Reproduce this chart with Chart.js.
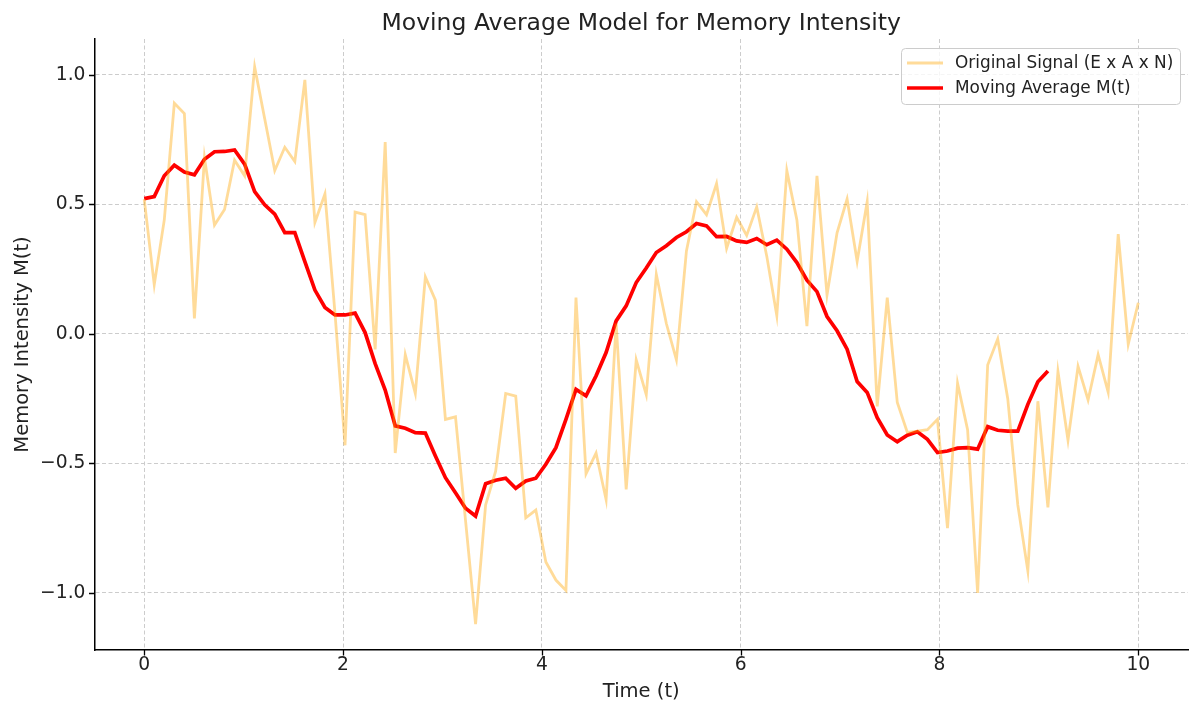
<!DOCTYPE html>
<html>
<head>
<meta charset="utf-8">
<title>Moving Average Model for Memory Intensity</title>
<script src="https://cdn.jsdelivr.net/npm/chart.js@4.4.1/dist/chart.umd.min.js"></script>
<style>
  html, body { margin: 0; padding: 0; background: #fff; }
  #wrap { width: 1200px; height: 715px; }
</style>
</head>
<body>
<div id="wrap"><canvas id="chart" width="1200" height="715"></canvas></div>
<script>
// samples are evenly spaced over t = 0..10 (100 samples)
const tEnd = 10;
const nSamples = 100;
const time = Array.from({ length: nSamples }, (_, i) => (i * tEnd) / (nSamples - 1));

// original signal E x A x N
const signal = [
  0.52, 0.19, 0.44, 0.89, 0.85, 0.06, 0.68, 0.42, 0.48, 0.67,
  0.61, 1.03, 0.83, 0.63, 0.72, 0.665, 0.98, 0.43, 0.54, 0.08,
  -0.43, 0.47, 0.46, -0.06, 0.74, -0.46, -0.08, -0.23, 0.22, 0.13,
  -0.33, -0.32, -0.72, -1.12, -0.66, -0.53, -0.23, -0.24, -0.71, -0.68,
  -0.88, -0.95, -0.99, 0.14, -0.54, -0.46, -0.64, 0.04, -0.60, -0.10,
  -0.235, 0.23, 0.04, -0.10, 0.32, 0.51, 0.46, 0.58, 0.33, 0.45,
  0.38, 0.49, 0.30, 0.07, 0.63, 0.44, 0.03, 0.61, 0.15, 0.39,
  0.52, 0.28, 0.51, -0.28, 0.14, -0.265, -0.38, -0.375, -0.37, -0.33,
  -0.75, -0.19, -0.37, -1.00, -0.12, -0.02, -0.25, -0.66, -0.915, -0.26,
  -0.67, -0.145, -0.41, -0.125, -0.255, -0.08, -0.225, 0.385, -0.04, 0.12
];

// moving average M(t), 91 points starting at t = 0
const movingAvg = [
  0.522, 0.53, 0.61, 0.651, 0.625, 0.614, 0.674, 0.703, 0.704, 0.71,
  0.655, 0.549, 0.498, 0.462, 0.391, 0.391, 0.279, 0.169, 0.102, 0.073,
  0.073, 0.08, 0.005, -0.115, -0.217, -0.355, -0.364, -0.381, -0.383, -0.471,
  -0.555, -0.613, -0.673, -0.703, -0.578, -0.565, -0.557, -0.596, -0.568, -0.557,
  -0.503, -0.439, -0.33, -0.214, -0.239, -0.162, -0.072, 0.05, 0.108, 0.198,
  0.254, 0.314, 0.34, 0.372, 0.394, 0.426, 0.417, 0.375, 0.376, 0.359,
  0.353, 0.368, 0.344, 0.362, 0.327, 0.275, 0.207, 0.163, 0.067, 0.012,
  -0.059, -0.184, -0.226, -0.323, -0.39, -0.416, -0.391, -0.378, -0.407, -0.458,
  -0.452, -0.441, -0.439, -0.445, -0.358, -0.372, -0.375, -0.375, -0.272, -0.185,
  -0.143
];

const xTicks = [0, 2, 4, 6, 8, 10];
const yTicks = [-1.0, -0.5, 0.0, 0.5, 1.0];
const yTickLabels = ["\u22121.0", "\u22120.5", "0.0", "0.5", "1.0"];

const titleText = "Moving Average Model for Memory Intensity";
const signalLabel = "Original Signal (E x A x N)";
const avgLabel = "Moving Average M(t)";

const FONT = "'DejaVu Sans', sans-serif";
const signalColor = "rgba(255,165,0,0.4)";
const avgColor = "#ff0000";

// title, outward tick marks and the boxed legend, drawn matplotlib style
const decorPlugin = {
  id: "decor",
  afterDraw(chart) {
    const { ctx, chartArea: area, scales } = chart;
    ctx.save();

    ctx.fillStyle = "#222";
    ctx.font = "23.5px " + FONT;
    ctx.textAlign = "center";
    ctx.textBaseline = "alphabetic";
    ctx.fillText(titleText, (area.left + area.right) / 2, 30);

    ctx.strokeStyle = "#000";
    ctx.lineWidth = 1.3;
    ctx.beginPath();
    xTicks.forEach((v) => {
      const px = Math.round(scales.x.getPixelForValue(v)) + 0.5;
      ctx.moveTo(px, area.bottom);
      ctx.lineTo(px, area.bottom + 5.5);
    });
    yTicks.forEach((v) => {
      const py = Math.round(scales.y.getPixelForValue(v)) + 0.5;
      ctx.moveTo(area.left, py);
      ctx.lineTo(area.left - 5.5, py);
    });
    ctx.stroke();

    const bx = area.right - 287, by = area.top + 9, bw = 279, bh = 56;
    ctx.beginPath();
    ctx.roundRect(bx + 0.5, by + 0.5, bw, bh, 4);
    ctx.fillStyle = "rgba(255,255,255,0.8)";
    ctx.fill();
    ctx.strokeStyle = "#cccccc";
    ctx.lineWidth = 1;
    ctx.stroke();

    const rows = [
      { label: signalLabel, color: signalColor, width: 2.8 },
      { label: avgLabel, color: avgColor, width: 3.7 }
    ];
    ctx.font = "16.9px " + FONT;
    ctx.textAlign = "left";
    ctx.textBaseline = "middle";
    rows.forEach((row, k) => {
      const ry = by + 15 + k * 25;
      ctx.beginPath();
      ctx.strokeStyle = row.color;
      ctx.lineWidth = row.width;
      ctx.moveTo(bx + 6, ry);
      ctx.lineTo(bx + 42, ry);
      ctx.stroke();
      ctx.fillStyle = "#222";
      ctx.fillText(row.label, bx + 54, ry + 1);
    });

    ctx.restore();
  }
};

const ctx = document.getElementById("chart").getContext("2d");
new Chart(ctx, {
  type: "line",
  data: {
    datasets: [
      {
        label: signalLabel,
        data: signal.map((v, i) => ({ x: time[i], y: v })),
        borderColor: signalColor,
        borderWidth: 2.8,
        pointRadius: 0,
        tension: 0,
        fill: false
      },
      {
        label: avgLabel,
        data: movingAvg.map((v, i) => ({ x: time[i], y: v })),
        borderColor: avgColor,
        borderWidth: 3.7,
        pointRadius: 0,
        tension: 0,
        fill: false
      }
    ]
  },
  options: {
    responsive: false,
    animation: false,
    devicePixelRatio: 1,
    layout: { padding: { top: 39, right: 12, left: 0, bottom: 0 } },
    plugins: {
      legend: { display: false },
      title: { display: false },
      tooltip: { enabled: false }
    },
    scales: {
      x: {
        type: "linear",
        min: -0.5,
        max: 10.5,
        afterBuildTicks: (s) => { s.ticks = xTicks.map((v) => ({ value: v })); },
        afterFit: (s) => { s.height = 65; },
        ticks: {
          color: "#222",
          font: { family: FONT, size: 18.7 },
          padding: 4,
          maxRotation: 0,
          callback: (v) => String(v)
        },
        grid: { color: "#cccccc", lineWidth: 1, drawTicks: false },
        border: { color: "#000", width: 1.5, dash: [4, 2.5] },
        title: {
          display: true,
          text: "Time (t)",
          color: "#222",
          font: { family: FONT, size: 19.5 },
          padding: { bottom: 11 }
        }
      },
      y: {
        type: "linear",
        min: -1.22,
        max: 1.138,
        afterBuildTicks: (s) => { s.ticks = yTicks.map((v) => ({ value: v })); },
        afterFit: (s) => { s.width = 94.5; },
        ticks: {
          color: "#222",
          font: { family: FONT, size: 18.7 },
          padding: 9,
          callback: (v) => yTickLabels[yTicks.indexOf(v)]
        },
        grid: { color: "#cccccc", lineWidth: 1, drawTicks: false },
        border: { color: "#000", width: 1.5, dash: [4, 2.5] },
        title: {
          display: true,
          text: "Memory Intensity M(t)",
          color: "#222",
          font: { family: FONT, size: 19.5 },
          padding: { top: 11 }
        }
      }
    }
  },
  plugins: [decorPlugin]
});
</script>
</body>
</html>
